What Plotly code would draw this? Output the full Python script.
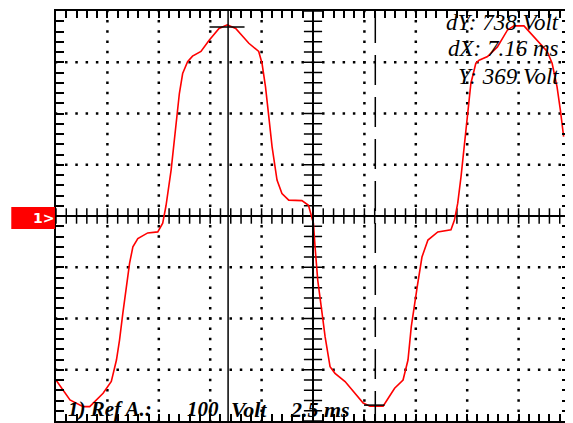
import plotly.graph_objects as go

# Waveform samples (time in ms, voltage in V)
t_ms = [0.0, 0.68, 1.32, 1.64, 2.29, 2.69, 2.94, 3.09, 3.25, 3.42, 3.58, 3.74, 3.98, 4.46, 4.95,
        5.19, 5.27, 5.35, 5.60, 5.84, 6.00, 6.16, 6.40, 6.64, 7.05, 7.45, 7.93, 8.33, 8.74, 9.38,
        9.86, 10.02, 10.19, 10.35, 10.51, 10.75, 10.99, 11.32, 11.96, 12.28, 12.44, 12.52, 12.60,
        12.73, 12.90, 13.09, 13.33, 13.57, 14.06, 14.54, 14.94, 15.27, 15.91, 16.15, 16.47, 16.88,
        17.12, 17.28, 17.44, 17.57, 17.80, 18.09, 18.57, 19.21, 19.38, 19.54, 19.70, 19.86, 20.02,
        20.18, 20.42, 20.58, 20.99, 21.47, 21.96, 22.28, 22.76, 23.24, 23.56, 23.89, 24.13, 24.37,
        24.53, 24.69]
volts = [-320, -359, -372, -372, -346, -323, -281, -242, -190, -138, -92, -60, -44, -33, -31,
         -14, 5, 20, 90, 174, 239, 278, 301, 312, 321, 343, 366, 373, 366, 337,
         321, 298, 252, 194, 135, 70, 44, 31, 30, 21, -1, -14, -60,
         -125, -177, -236, -294, -307, -323, -346, -365, -371, -371, -356, -336, -320,
         -281, -216, -177, -138, -80, -47, -31, -27, -8, 25, 77, 142, 207,
         259, 298, 304, 311, 330, 363, 371, 371, 350, 337, 321, 298, 252,
         207, 155]

# Cursor readouts
cursor_t1 = 8.37
cursor_dx = 7.16
cursor_y = 369
cursor_dy = 738
readout_lines = ["dY: 738 Volt", "dX: 7.16 ms", "Y: 369 Volt"]
label_parts = ["1) Ref A.:", "100", "Volt", "2.5 ms"]

T_DIV = 2.5      # ms / div
V_DIV = 100      # V / div
N_X, N_Y = 10, 8

x_min, x_max = 0, N_X * T_DIV
y_min, y_max = -N_Y / 2 * V_DIV, N_Y / 2 * V_DIV
t_center = (x_min + x_max) / 2

fig = go.Figure()

# dotted graticule
dx, dy = [], []
minor_t = [x_min + i * T_DIV / 5 for i in range(N_X * 5 + 1)]
minor_v = [y_min + i * V_DIV / 5 for i in range(N_Y * 5 + 1)]
for i in range(1, N_X):
    tx = x_min + i * T_DIV
    if abs(tx - t_center) < 1e-9:
        continue
    for v in minor_v:
        dx.append(tx); dy.append(v)
for j in range(1, N_Y):
    vy = y_min + j * V_DIV
    if abs(vy) < 1e-9:
        continue
    for tx in minor_t:
        dx.append(tx); dy.append(vy)
fig.add_trace(go.Scatter(x=dx, y=dy, mode="markers",
                         marker=dict(symbol="square", size=2.5, color="black"),
                         hoverinfo="skip", showlegend=False))

# centre axes ticks
fig.add_trace(go.Scatter(x=minor_t, y=[0] * len(minor_t), mode="markers",
                         marker=dict(symbol="line-ns", size=11, line=dict(width=1.5, color="black")),
                         hoverinfo="skip", showlegend=False))
fig.add_trace(go.Scatter(x=[t_center] * len(minor_v), y=minor_v, mode="markers",
                         marker=dict(symbol="line-ew", size=13, line=dict(width=1.5, color="black")),
                         hoverinfo="skip", showlegend=False))

# waveform
fig.add_trace(go.Scatter(x=t_ms, y=volts, mode="lines",
                         line=dict(color="#ff0000", width=1.6), showlegend=False))

shapes = []
shapes.append(dict(type="line", x0=t_center, x1=t_center, y0=y_min, y1=y_max,
                   line=dict(color="black", width=2)))
t2 = cursor_t1 + cursor_dx
shapes.append(dict(type="line", x0=cursor_t1, x1=cursor_t1, y0=y_min, y1=y_max,
                   line=dict(color="black", width=1.5)))
shapes.append(dict(type="line", x0=t2, x1=t2, y0=y_min, y1=y_max,
                   line=dict(color="black", width=1.5, dash="30px,12px")))
shapes.append(dict(type="line", x0=cursor_t1 - 0.9, x1=cursor_t1 + 0.8, y0=cursor_y, y1=cursor_y,
                   line=dict(color="black", width=1.5)))
shapes.append(dict(type="line", x0=t2 - 0.55, x1=t2 + 0.45,
                   y0=cursor_y - cursor_dy, y1=cursor_y - cursor_dy,
                   line=dict(color="black", width=1.5)))
shapes.append(dict(type="rect", xref="paper", yref="paper", x0=-0.087, x1=-0.002,
                   y0=0.468, y1=0.522, fillcolor="#ff0000", line=dict(width=0)))

annotations = []
for k, txt in enumerate(readout_lines):
    annotations.append(dict(xref="paper", yref="paper", x=0.982, y=1 - (11 + 27 * k) / 410,
                            xanchor="right", yanchor="middle", showarrow=False, text=txt,
                            font=dict(family="Liberation Serif", size=23, color="black",
                                      style="italic")))
label_x = [66, 186, 230, 289]
label_size = [21, 21, 22, 22]
for px, txt, sz in zip(label_x, label_parts, label_size):
    annotations.append(dict(xref="paper", yref="paper", x=(px - 56) / 516, y=12 / 410,
                            xanchor="left", yanchor="middle", showarrow=False,
                            text="<b>" + txt + "</b>",
                            font=dict(family="Liberation Serif", size=sz, color="black",
                                      style="italic")))
annotations.append(dict(xref="paper", yref="paper", x=-0.025, y=0.495, xanchor="center",
                        yanchor="middle", showarrow=False, text="<b>1&gt;</b>",
                        font=dict(family="DejaVu Sans", size=14, color="white")))

fig.update_layout(
    width=565, height=415,
    margin=dict(l=48, r=1, t=3, b=2),
    paper_bgcolor="white", plot_bgcolor="white",
    shapes=shapes, annotations=annotations,
    xaxis=dict(range=[x_min, x_max], dtick=T_DIV / 5, tick0=0, ticks="inside", ticklen=7,
               tickwidth=1.5, tickcolor="black", showticklabels=False, showgrid=False,
               zeroline=False, showline=True, linecolor="black", linewidth=2, mirror="ticks"),
    yaxis=dict(range=[y_min, y_max], dtick=V_DIV / 5, tick0=0, ticks="inside", ticklen=8,
               tickwidth=1.5, tickcolor="black", showticklabels=False, showgrid=False,
               zeroline=True, zerolinecolor="black", zerolinewidth=2,
               showline=True, linecolor="black", linewidth=2, mirror="ticks"),
)

fig.write_html("out.html")
